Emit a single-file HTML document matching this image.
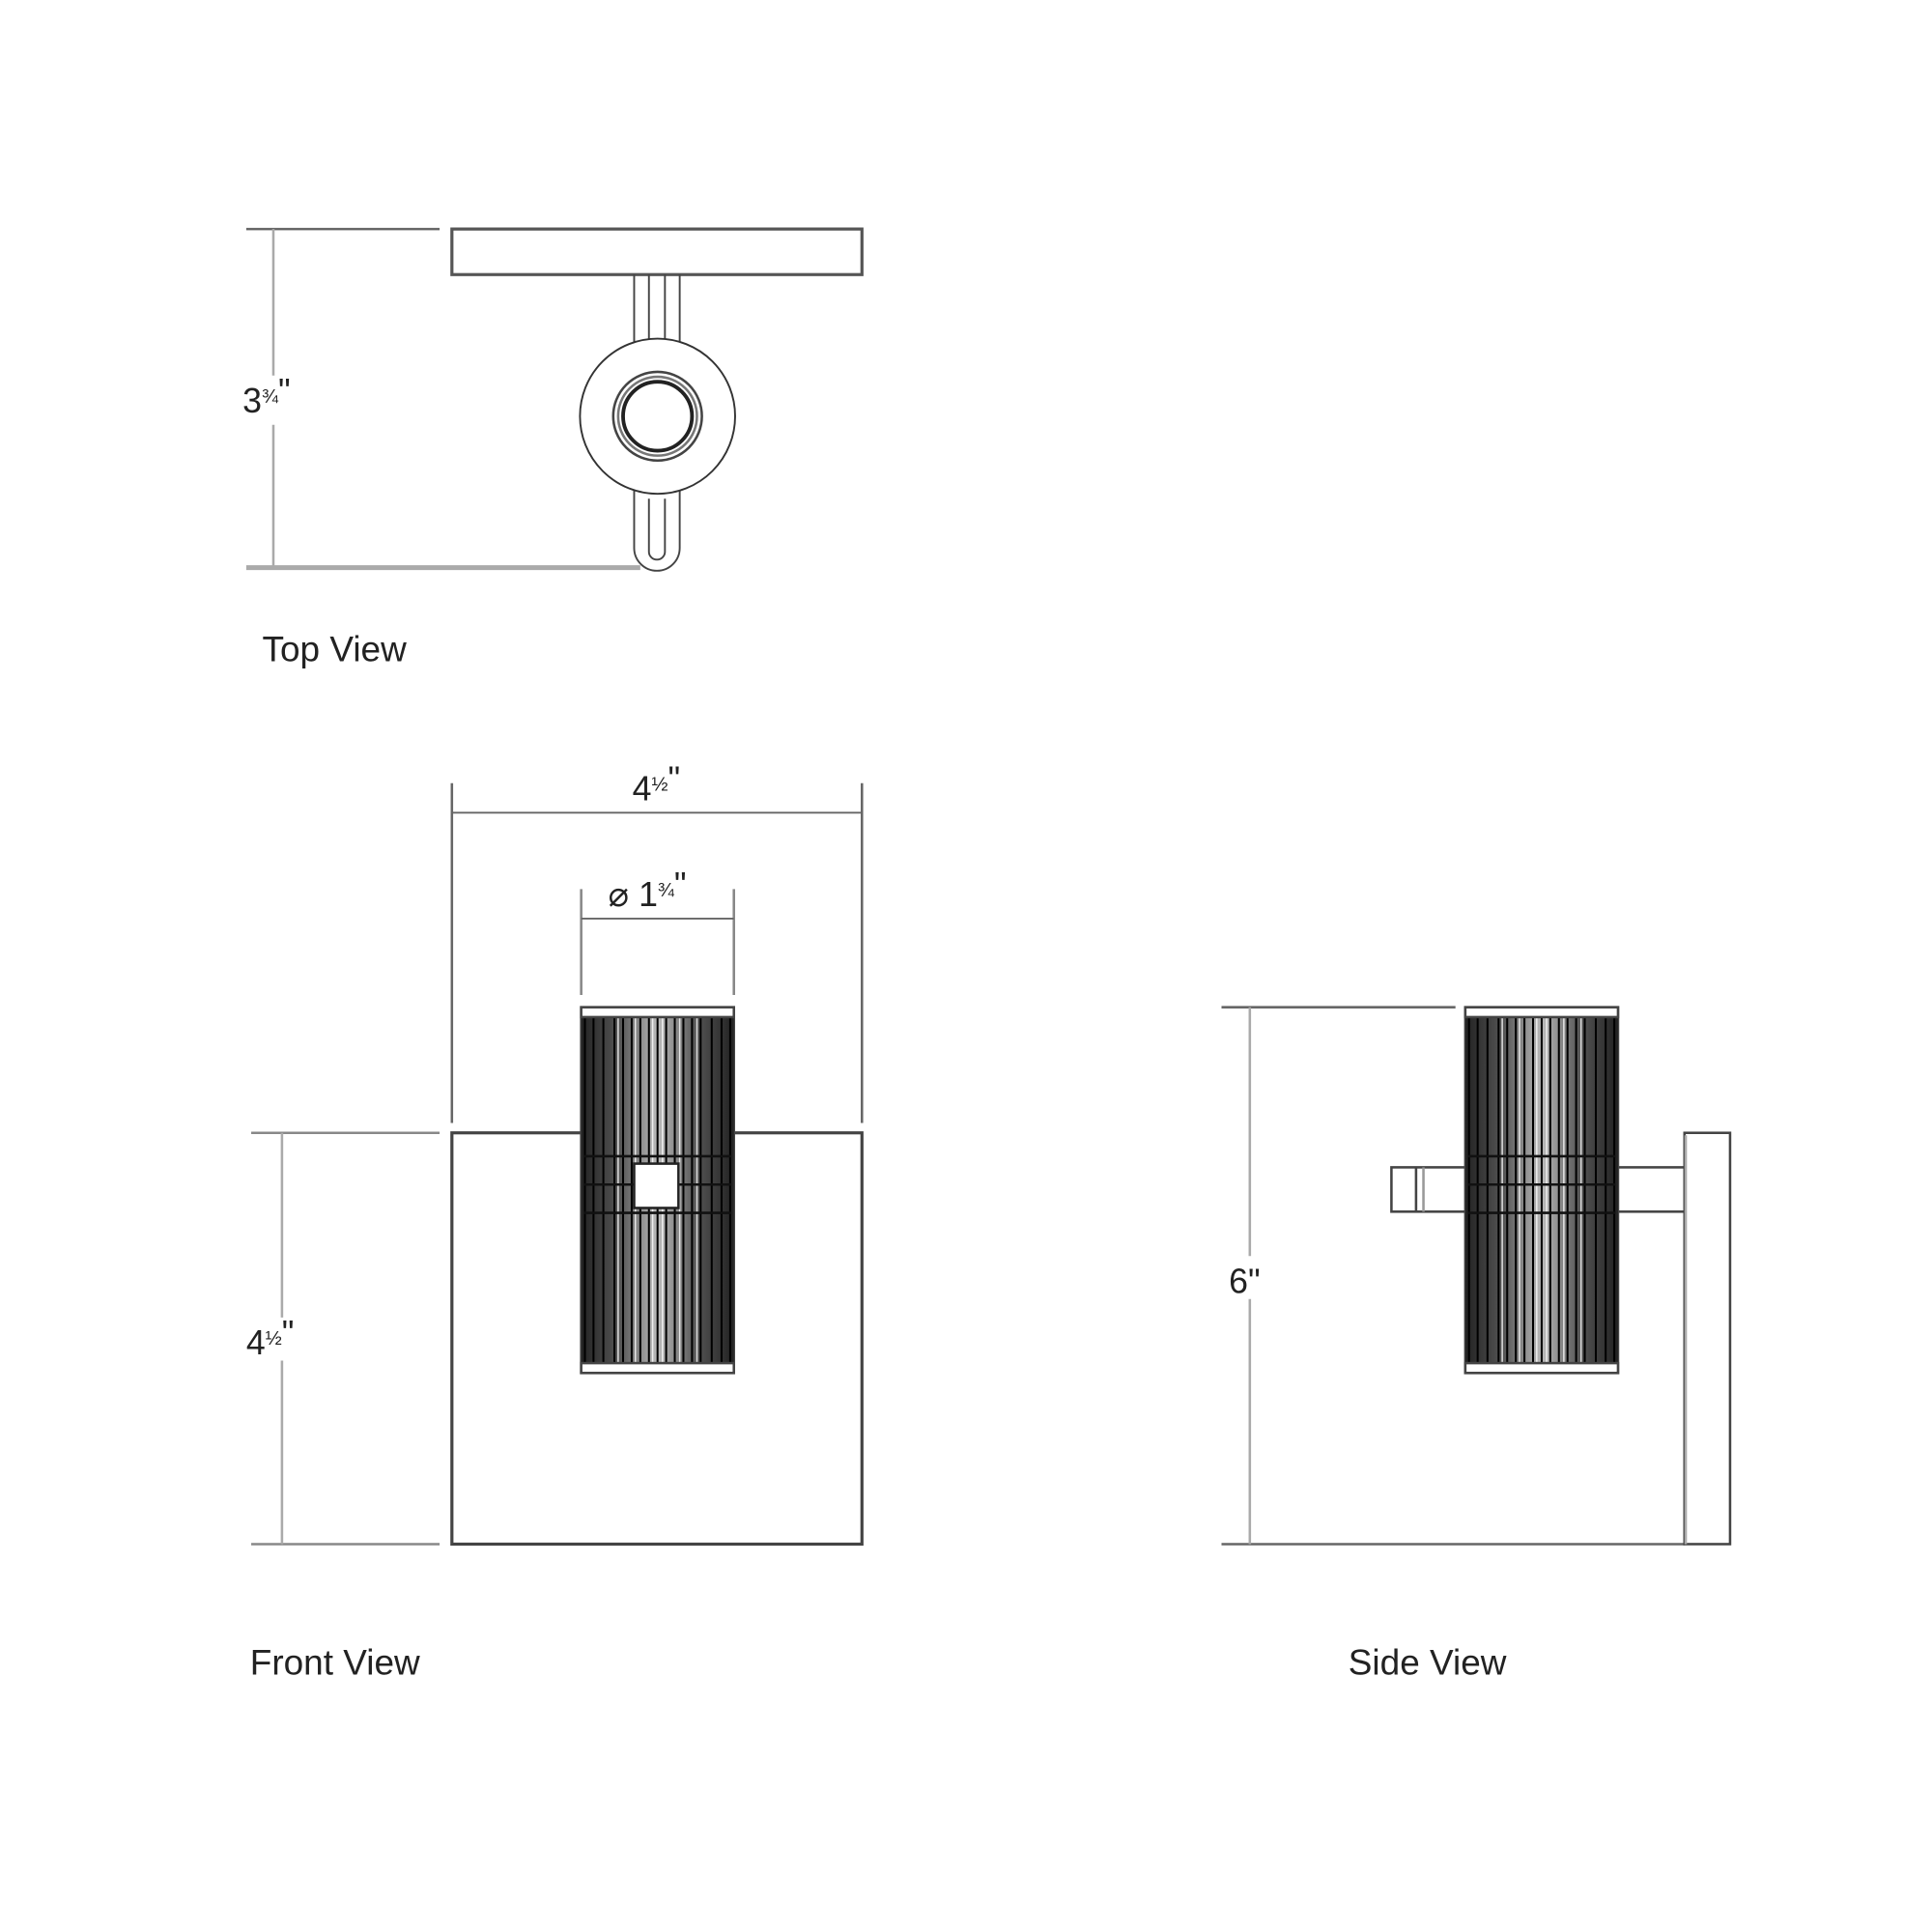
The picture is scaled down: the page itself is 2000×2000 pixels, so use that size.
<!DOCTYPE html>
<html><head><meta charset="utf-8"><style>
html,body{margin:0;padding:0;background:#fff}
svg{display:block}
text{font-family:"Liberation Sans",sans-serif;fill:#222}
</style></head><body>
<svg width="2000" height="2000" viewBox="0 0 1569 1569" xmlns="http://www.w3.org/2000/svg">
<defs>
<linearGradient id="g" x1="0" x2="1" y1="0" y2="0">
<stop offset="0" stop-color="#222"/><stop offset="0.25" stop-color="#555"/>
<stop offset="0.5" stop-color="#bbb"/><stop offset="0.75" stop-color="#555"/><stop offset="1" stop-color="#222"/>
</linearGradient>
<g id="cyl">
<rect x="0" y="0" width="124" height="297" fill="#fff" stroke="#444" stroke-width="2"/>
<rect x="0" y="8" width="124" height="281" fill="url(#g)"/>
<g stroke="#000" stroke-width="1.6">
<line x1="3" y1="8" x2="3" y2="289"/><line x1="10" y1="8" x2="10" y2="289"/><line x1="18" y1="8" x2="18" y2="289"/>
<line x1="27" y1="8" x2="27" y2="289"/><line x1="34" y1="8" x2="34" y2="289"/><line x1="41" y1="8" x2="41" y2="289"/>
<line x1="48" y1="8" x2="48" y2="289"/><line x1="55" y1="8" x2="55" y2="289"/><line x1="62" y1="8" x2="62" y2="289"/>
<line x1="69" y1="8" x2="69" y2="289"/><line x1="76" y1="8" x2="76" y2="289"/><line x1="83" y1="8" x2="83" y2="289"/>
<line x1="90" y1="8" x2="90" y2="289"/><line x1="97" y1="8" x2="97" y2="289"/><line x1="106" y1="8" x2="106" y2="289"/>
<line x1="114" y1="8" x2="114" y2="289"/><line x1="121" y1="8" x2="121" y2="289"/>
</g>
<g stroke="#fff" stroke-width="1.2" opacity="0.8">
<line x1="30" y1="8" x2="30" y2="289"/><line x1="44" y1="8" x2="44" y2="289"/><line x1="58" y1="8" x2="58" y2="289"/>
<line x1="66" y1="8" x2="66" y2="289"/><line x1="80" y1="8" x2="80" y2="289"/><line x1="94" y1="8" x2="94" y2="289"/>
</g>
<g stroke="#111" stroke-width="2">
<line x1="2" y1="121" x2="122" y2="121"/><line x1="2" y1="144" x2="122" y2="144"/><line x1="2" y1="167" x2="122" y2="167"/>
</g>
<rect x="0" y="0" width="124" height="8" fill="#fff" stroke="#444" stroke-width="2"/>
<rect x="0" y="289" width="124" height="8" fill="#fff" stroke="#444" stroke-width="2"/>
</g>
</defs>

<!-- TOP VIEW -->
<g fill="none">
<line x1="200" y1="186" x2="357" y2="186" stroke="#666" stroke-width="2"/>
<line x1="200" y1="461" x2="520" y2="461" stroke="#aaa" stroke-width="4"/>
<line x1="222" y1="186" x2="222" y2="305" stroke="#aaa" stroke-width="2"/>
<line x1="222" y1="345" x2="222" y2="461" stroke="#aaa" stroke-width="2"/>
<rect x="367" y="186" width="333" height="37" stroke="#555" stroke-width="2.5"/>
<path d="M515 223 V300 M552 223 V300 M527 223 V298 M540 223 V298" stroke="#444" stroke-width="1.5"/>
<path d="M515 398 V445 A18.5 18.5 0 0 0 552 445 V398 M527 405 V448 A6.5 6.5 0 0 0 540 448 V405" stroke="#444" stroke-width="1.5"/>
<ellipse cx="534" cy="338" rx="63" ry="63" fill="#fff" stroke="#333" stroke-width="1.5"/>
<circle cx="534" cy="338" r="36" stroke="#444" stroke-width="2"/>
<circle cx="534" cy="338" r="32" stroke="#777" stroke-width="2"/>
<circle cx="534" cy="338" r="28" stroke="#222" stroke-width="3"/>
</g>
<text x="197" y="335" font-size="28">3<tspan font-size="16" dy="-8">¾</tspan>"</text>
<text x="213" y="537" font-size="29">Top View</text>

<!-- FRONT VIEW -->
<g fill="none">
<line x1="367" y1="636" x2="367" y2="912" stroke="#666" stroke-width="2"/>
<line x1="700" y1="636" x2="700" y2="912" stroke="#666" stroke-width="2"/>
<line x1="367" y1="660" x2="700" y2="660" stroke="#666" stroke-width="1.5"/>
<line x1="472" y1="722" x2="472" y2="808" stroke="#888" stroke-width="2"/>
<line x1="596" y1="722" x2="596" y2="808" stroke="#888" stroke-width="2"/>
<line x1="472" y1="746" x2="596" y2="746" stroke="#666" stroke-width="1.5"/>
<rect x="367" y="920" width="333" height="334" stroke="#444" stroke-width="2.5"/>
<line x1="204" y1="920" x2="357" y2="920" stroke="#888" stroke-width="2"/>
<line x1="204" y1="1254" x2="357" y2="1254" stroke="#888" stroke-width="2"/>
<line x1="229" y1="920" x2="229" y2="1070" stroke="#aaa" stroke-width="2"/>
<line x1="229" y1="1105" x2="229" y2="1254" stroke="#aaa" stroke-width="2"/>
</g>
<use href="#cyl" x="472" y="818"/>
<rect x="515" y="945" width="36" height="36" fill="#fff" stroke="#222" stroke-width="2"/>
<text x="533" y="650" font-size="28" text-anchor="middle">4<tspan font-size="16" dy="-8">½</tspan>"</text>
<text x="494" y="736" font-size="28">⌀ 1<tspan font-size="16" dy="-8">¾</tspan>"</text>
<text x="200" y="1100" font-size="28">4<tspan font-size="16" dy="-8">½</tspan>"</text>
<text x="203" y="1360" font-size="29">Front View</text>

<!-- SIDE VIEW -->
<g fill="none">
<line x1="992" y1="818" x2="1182" y2="818" stroke="#666" stroke-width="2"/>
<line x1="992" y1="1254" x2="1368" y2="1254" stroke="#666" stroke-width="2"/>
<line x1="1015" y1="818" x2="1015" y2="1020" stroke="#aaa" stroke-width="2"/>
<line x1="1015" y1="1055" x2="1015" y2="1254" stroke="#aaa" stroke-width="2"/>
<rect x="1130" y="948" width="238" height="36" stroke="#444" stroke-width="2"/>
<line x1="1150" y1="948" x2="1150" y2="984" stroke="#444" stroke-width="2"/>
<line x1="1156" y1="948" x2="1156" y2="984" stroke="#999" stroke-width="2"/>
<rect x="1368" y="920" width="37" height="334" stroke="#444" stroke-width="2"/>
<line x1="1369" y1="922" x2="1369" y2="1254" stroke="#aaa" stroke-width="2"/>
</g>
<use href="#cyl" x="1190" y="818"/>
<text x="998" y="1050" font-size="28">6"</text>
<text x="1095" y="1360" font-size="29">Side View</text>
</svg>
</body></html>
